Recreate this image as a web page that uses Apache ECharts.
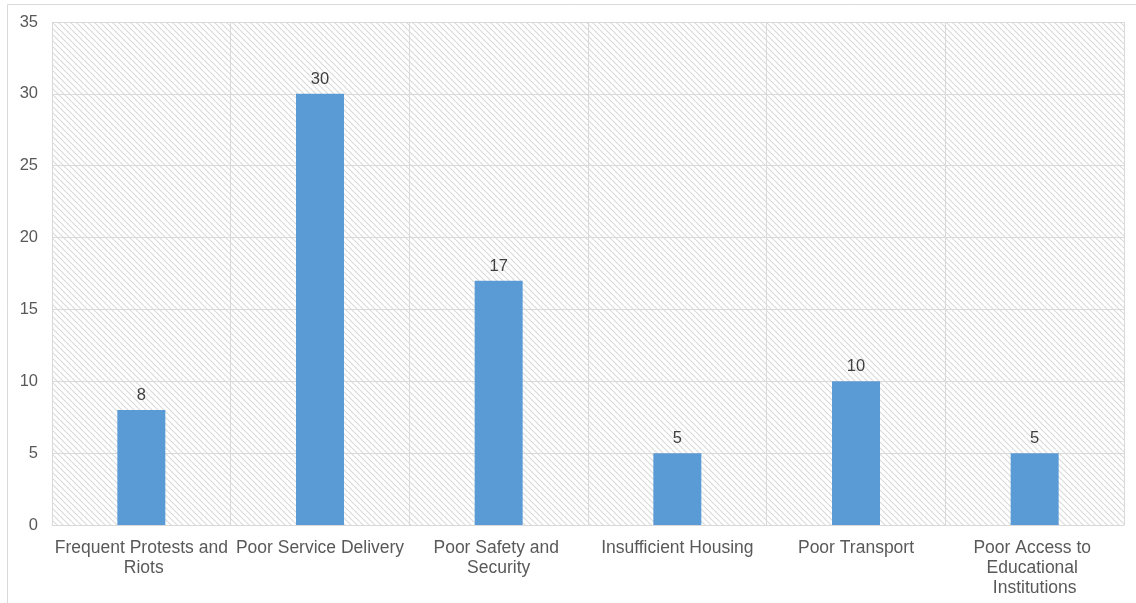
<!DOCTYPE html>
<html>
<head>
<meta charset="utf-8">
<script src="https://cdn.jsdelivr.net/npm/echarts@6/dist/echarts.min.js"></script>
<style>
  html, body { margin: 0; padding: 0; background: #ffffff; }
  #chart { width: 1136px; height: 603px; }
</style>
</head>
<body>
<div id="chart"></div>
<script>
// Survey categories and their counts
const categories = [
  'Frequent Protests and Riots',
  'Poor Service Delivery',
  'Poor Safety and Security',
  'Insufficient Housing',
  'Poor Transport',
  'Poor Access to Educational Institutions'
];
const counts = [8, 30, 17, 5, 10, 5];
const yTicks = { min: 0, max: 35, step: 5 };

// Diagonal hatch tile used to fill the plot background
function hatchTile() {
  const s = 6;
  const c = document.createElement('canvas');
  c.width = s; c.height = s;
  const ctx = c.getContext('2d');
  ctx.fillStyle = '#ffffff';
  ctx.fillRect(0, 0, s, s);
  ctx.strokeStyle = '#dadada';
  ctx.lineWidth = 1.2;
  for (const k of [-s, 0, s]) {
    ctx.beginPath();
    ctx.moveTo(k, 0);
    ctx.lineTo(k + s, s);
    ctx.stroke();
  }
  return c;
}

const chart = echarts.init(document.getElementById('chart'), null, { renderer: 'canvas' });
const font = '"Liberation Sans", Arial, sans-serif';

chart.setOption({
  animation: false,
  backgroundColor: '#ffffff',
  textStyle: { fontFamily: font },
  graphic: [{
    type: 'rect',
    shape: { x: 7.5, y: 4.5, width: 1140, height: 620 },
    style: { fill: 'none', stroke: '#d9d9d9', lineWidth: 1 },
    silent: true,
    z: -1
  }],
  grid: {
    left: 52, right: 12, top: 22, bottom: 78,
    show: true,
    borderWidth: 0,
    backgroundColor: { image: hatchTile(), repeat: 'repeat' }
  },
  xAxis: {
    type: 'category',
    data: categories,
    boundaryGap: true,
    axisLine: { show: true, lineStyle: { color: '#d9d9d9', width: 1 } },
    axisTick: { show: false },
    splitLine: { show: true, lineStyle: { color: '#d9d9d9', width: 1 } },
    axisLabel: {
      interval: 0,
      color: '#595959',
      fontSize: 17.5,
      fontFamily: font,
      lineHeight: 20,
      margin: 13,
      width: 176,
      overflow: 'break',
      align: 'center'
    }
  },
  yAxis: {
    type: 'value',
    min: yTicks.min,
    max: yTicks.max,
    interval: yTicks.step,
    axisLine: { show: false },
    axisTick: { show: false },
    splitLine: { show: true, lineStyle: { color: '#d9d9d9', width: 1 } },
    axisLabel: { color: '#595959', fontSize: 16.5, fontFamily: font, margin: 14 }
  },
  series: [{
    type: 'bar',
    data: counts,
    barWidth: 48,
    itemStyle: { color: '#5b9bd5' },
    label: {
      show: true,
      position: 'top',
      distance: 6,
      color: '#404040',
      fontSize: 16.5,
      fontFamily: font
    }
  }]
});
</script>
</body>
</html>
